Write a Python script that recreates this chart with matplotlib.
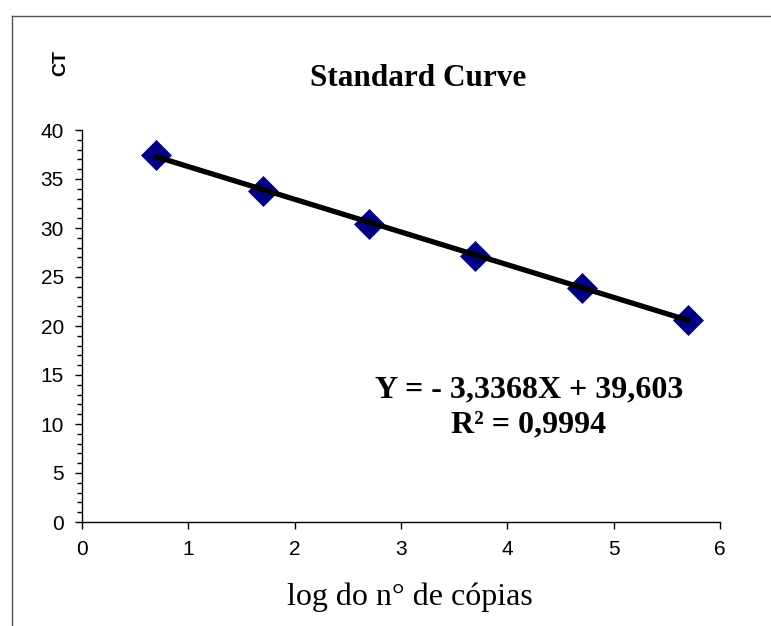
import matplotlib
matplotlib.use("Agg")
import matplotlib.pyplot as plt
from matplotlib.lines import Line2D
import numpy as np

log_copies = [0.7, 1.7, 2.7, 3.7, 4.7, 5.7]
ct_values = [37.45, 33.8, 30.45, 27.1, 23.9, 20.65]
slope = -3.3368
intercept = 39.603
r2_text = "R² = 0,9994"
eq_text = "Y = - 3,3368X + 39,603"
title_text = "Standard Curve"
xlabel_text = "log do n° de cópias"
ylabel_text = "CT"
xticks = [0, 1, 2, 3, 4, 5, 6]
yticks = [0, 5, 10, 15, 20, 25, 30, 35, 40]

W, H = 771, 626
fig = plt.figure(figsize=(W / 100, H / 100), dpi=100)
ax = fig.add_axes([82 / W, 1 - 522 / H, (720 - 82) / W, (522 - 130) / H])

# data series (thin light line) + markers
ax.plot(log_copies, ct_values, color="#8fb8e0", lw=1, zorder=2)
ax.plot(log_copies, ct_values, ls="none", marker="D", ms=15, color="#000080",
        markeredgecolor="#000080", markeredgewidth=0.5, zorder=3)
# trendline
tx = np.array([log_copies[0], log_copies[-1]])
ax.plot(tx, slope * tx + intercept, color="black", lw=3.8, solid_capstyle="round", zorder=4)

ax.set_xlim(0, 6)
ax.set_ylim(0, 40)
ax.set_xticks(xticks)
ax.set_yticks(yticks)
ax.set_yticks(np.arange(0, 41, 1), minor=True)
for s in ["top", "right"]:
    ax.spines[s].set_visible(False)
for s in ["left", "bottom"]:
    ax.spines[s].set_color("black")
    ax.spines[s].set_linewidth(1)
ax.tick_params(axis="both", which="major", direction="out", length=5, width=1,
               labelsize=15)
ax.tick_params(axis="y", which="minor", direction="out", length=3.5, width=1)
ax.tick_params(axis="x", which="minor", length=0)
for lab in ax.get_xticklabels() + ax.get_yticklabels():
    lab.set_fontfamily("Liberation Sans")
ax.tick_params(axis="x", pad=8)
ax.tick_params(axis="y", pad=8)

# texts
fig.text(418 / W, 1 - 78 / H, title_text, ha="center", va="center",
         fontsize=22.5, fontweight="bold", family="Liberation Serif")
fig.text(61 / W, 1 - 63 / H, ylabel_text, ha="center", va="center", rotation=90,
         fontsize=14, fontweight="bold", family="Liberation Sans")
fig.text(529 / W, 1 - 390 / H, eq_text, ha="center", va="center",
         fontsize=23, fontweight="bold", family="Liberation Serif")
fig.text(529 / W, 1 - 425 / H, r2_text, ha="center", va="center",
         fontsize=23, fontweight="bold", family="Liberation Serif")
fig.text(410 / W, 1 - 597 / H, xlabel_text, ha="center", va="center",
         fontsize=23, family="Liberation Serif")

# outer frame (left and top border)
fig.add_artist(Line2D([12 / W, 12 / W], [0, 1 - 16 / H], transform=fig.transFigure,
                      color="#555555", lw=1))
fig.add_artist(Line2D([12 / W, 1], [1 - 16 / H, 1 - 16 / H], transform=fig.transFigure,
                      color="#555555", lw=1))

fig.savefig("out.png", dpi=100)
